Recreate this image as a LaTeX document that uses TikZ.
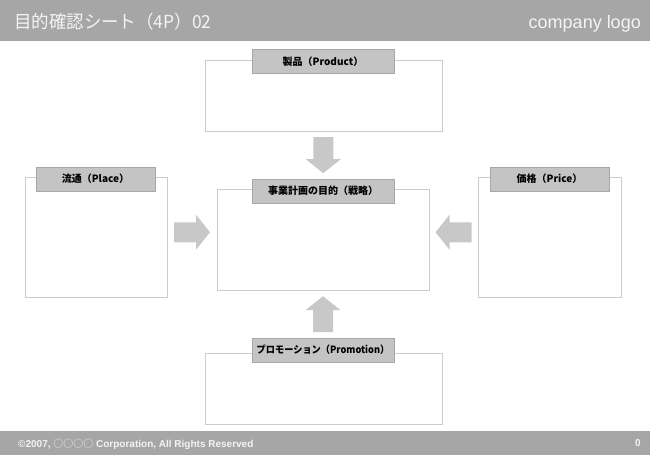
\documentclass[tikz,border=0pt]{standalone}
\usepackage{fontspec}
\usepackage{graphicx}
\setmainfont{Liberation Sans}
\newfontfamily\jp{Noto Sans CJK JP}
\usetikzlibrary{calc}
\definecolor{bargray}{HTML}{A6A6A6}
\definecolor{framegray}{HTML}{CCCCCC}
\definecolor{labelgray}{HTML}{C4C4C4}
\definecolor{arrowgray}{HTML}{C8C8C8}
\definecolor{bartext}{HTML}{F4F4F4}
\tikzset{
  frame/.style={draw=framegray, line width=1pt, fill=white, inner sep=0pt},
  lbl/.style={draw=labelgray!85!black, line width=0.3pt, fill=labelgray, inner sep=0pt,
    minimum width=142pt, minimum height=24pt, font=\jp\bfseries\fontsize{10}{12}\selectfont, text=black},
  blockarrow/.pic={\fill[arrowgray] (-18,-10) -- (4,-10) -- (4,-17.5) -- (18,0) -- (4,17.5) -- (4,10) -- (-18,10) -- cycle;},
}
\begin{document}
\begin{tikzpicture}[x=1pt,y=-1pt]
\useasboundingbox (0,0) rectangle (650,455);
\fill[white] (0,0) rectangle (650,455);
% header and footer
\fill[bargray] (0,0) rectangle (650,41);
\fill[bargray] (0,431) rectangle (650,455);
\node[anchor=base west, inner sep=0pt, text=bartext, font=\jp\fontsize{18}{21}\selectfont] (title) at (14,28) {\scalebox{0.97}[1]{目的確認シート（4P）02}};
\node[anchor=base east, inner sep=0pt, text=bartext, font=\fontsize{18}{21}\selectfont] (logo) at (641,28) {company logo};
\node[anchor=base west, inner sep=0pt, text=bartext, font=\bfseries\fontsize{10}{12}\selectfont] (copy) at (18,447) {©2007, {\jp\mdseries ○○○○} Corporation, All Rights Reserved};
\node[anchor=base east, inner sep=0pt, text=bartext, font=\bfseries\fontsize{10}{12}\selectfont] (page) at (641,446) {0};
% frames
\node[frame, minimum width=237pt, minimum height=71pt] (prod) at (323.5,95.5) {};
\node[frame, minimum width=212pt, minimum height=101pt] (center) at (323,239.5) {};
\node[frame, minimum width=142pt, minimum height=120pt] (place) at (96,237) {};
\node[frame, minimum width=143pt, minimum height=120pt] (price) at (549.5,237) {};
\node[frame, minimum width=237pt, minimum height=71pt] (promo) at (323.5,388.5) {};
% labels
\node[lbl] (prodl) at (323,61.5) {製品（Product）};
\node[lbl] (centerl) at (323,191) {事業計画の目的（戦略）};
\node[lbl, minimum width=119pt] (placel) at (95.5,179) {流通（Place）};
\node[lbl, minimum width=119pt] (pricel) at (549.5,179) {価格（Price）};
\node[lbl] (promol) at (323,350) {\scalebox{0.92}[1]{プロモーション（Promotion）}};
% block arrows (centres between the boxes they join)
\coordinate (cdown) at ($(prod.south)!0.5!(centerl.north)$);
\coordinate (cup) at ($(center.south)!0.5!(promol.north)$);
\coordinate (cright) at ($(place.east)!0.5!(center.west)+(0,-6)$);
\coordinate (cleft) at ($(center.east)!0.5!(price.west)+(0,-6)$);
\pic[rotate=-90] at (cdown) {blockarrow};
\pic[rotate=90] at (cup) {blockarrow};
\pic at (cright) {blockarrow};
\pic[rotate=180] at (cleft) {blockarrow};
\end{tikzpicture}
\end{document}
